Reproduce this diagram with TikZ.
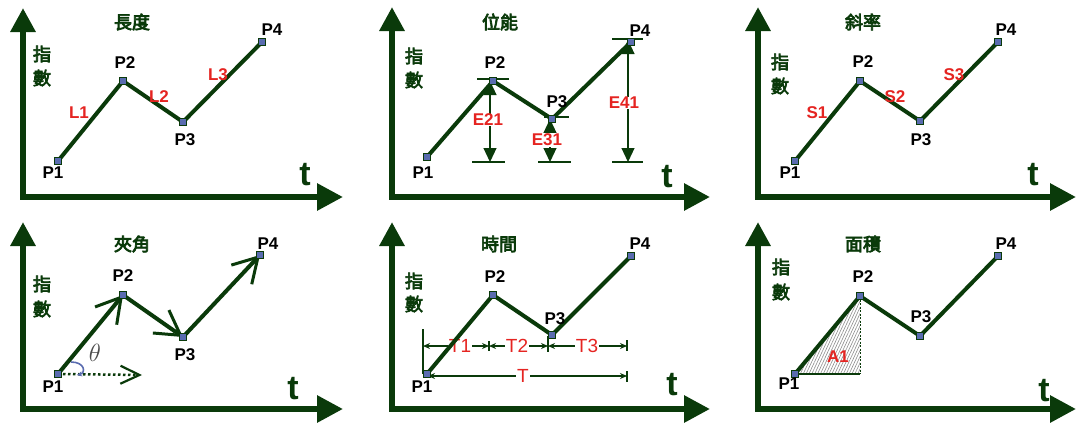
\documentclass[tikz,border=0pt]{standalone}
\usepackage{fontspec}
\setmainfont{Liberation Sans}
\newfontfamily\cjk{Noto Sans CJK TC}[FakeBold=4]
\usetikzlibrary{arrows.meta,patterns.meta}
\definecolor{dgreen}{HTML}{0A3A0A}
\definecolor{lred}{HTML}{E52421}
\definecolor{mblue}{HTML}{5A6CB0}
\tikzset{
 axisline/.style={line width=6pt, draw=dgreen, line join=miter,
   {Triangle[length=24pt,width=24pt]}-{Triangle[length=26pt,width=26pt]}},
 curve/.style={line width=4pt, draw=dgreen, line join=miter},
 ptmark/.style={rectangle, draw=dgreen, fill=mblue, line width=0.6pt, minimum size=6.5pt, inner sep=0pt},
 plab/.style={font=\fontsize{17}{17}\selectfont\bfseries, text=black, inner sep=0pt},
 redlab/.style={font=\fontsize{17}{17}\selectfont\bfseries, text=lred, inner sep=0.5pt},
 redthin/.style={font=\fontsize{19}{19}\selectfont, text=lred, fill=white, inner sep=0.8pt},
 ttl/.style={font=\cjk\fontsize{18}{18}\selectfont, text=dgreen, inner sep=0pt},
 tlab/.style={font=\fontsize{34}{34}\selectfont\bfseries, text=dgreen, inner sep=0pt},
 dimline/.style={line width=1.2pt, draw=dgreen},
 etip/.style={dimline, {Triangle[length=14pt,width=13pt]}-{Triangle[length=14pt,width=13pt]}},
 ttip/.style={dimline, {Stealth[length=7pt,width=6pt]}-{Stealth[length=7pt,width=6pt]}},
 vecarrow/.style={line width=4pt, draw=dgreen, -{Straight Barb[length=24pt,width=28pt,line width=3pt]}},
}
\newcommand\pnlaxes[5]{%
  \coordinate (#1t) at (#2,#3); \coordinate (#1o) at (#2,#4); \coordinate (#1r) at (#5,#4);
  \draw[axisline] (#1t) -- (#1o) -- (#1r);}
\begin{document}
\begin{tikzpicture}[x=1pt,y=-1pt]
\useasboundingbox[fill=white] (0,0) rectangle (1076,423);

% ================= Panel 1 =================
\pnlaxes{a}{23}{8}{197}{343}
\node[ttl] (aT) at (132,22) {長度};
\node[ttl] (aY1) at (42,54) {指};
\node[ttl] (aY2) at (42,78) {數};
\node[tlab] (at) at (305,175) {t};
\node[ptmark] (a1) at (58,161) {};
\node[ptmark] (a2) at (123,81) {};
\node[ptmark] (a3) at (183,122) {};
\node[ptmark] (a4) at (262,42) {};
\draw[curve] (a1.center) -- (a2.center) -- (a3.center) -- (a4.center);
\foreach \n in {1,2,3,4} \node[ptmark] at (a\n) {};
\node[plab] (a1l) at (53,173) {P1};
\node[plab] (a2l) at (125,63) {P2};
\node[plab] (a3l) at (185,140) {P3};
\node[plab] (a4l) at (272,30) {P4};
\node[redlab] (aL1) at (79,113) {L1};
\node[redlab] (aL2) at (159,97) {L2};
\node[redlab] (aL3) at (218,75) {L3};

% ================= Panel 2 =================
\pnlaxes{b}{392}{7}{197}{710}
\node[ttl] (bT) at (500,22) {位能};
\node[ttl] (bY1) at (414,56) {指};
\node[ttl] (bY2) at (414,80) {數};
\node[tlab] (bt) at (667,177) {t};
\coordinate (b2ta) at (477,79); \coordinate (b2tb) at (509,79);
\coordinate (b2ba) at (472,162); \coordinate (b2bb) at (505,162);
\coordinate (b3ta) at (544,117); \coordinate (b3tb) at (569,117);
\coordinate (b3ba) at (538,162); \coordinate (b3bb) at (571,162);
\coordinate (b4ta) at (612,39); \coordinate (b4tb) at (643,39);
\coordinate (b4ba) at (612,162); \coordinate (b4bb) at (643,162);
\foreach \k in {2,3,4} {\draw[dimline] (b\k ta) -- (b\k tb); \draw[dimline] (b\k ba) -- (b\k bb);}
\coordinate (b2u) at (490,81); \coordinate (b2d) at (490,162);
\coordinate (b3u) at (550,119); \coordinate (b3d) at (550,162);
\coordinate (b4u) at (628,40); \coordinate (b4d) at (628,162);
\draw[etip] (b2u) -- (b2d);
\draw[etip] (b3u) -- (b3d);
\draw[etip] (b4u) -- (b4d);
\node[redlab, fill=white] (bE21) at (488,120) {E21};
\node[redlab, fill=white] (bE31) at (547,140) {E31};
\node[redlab, fill=white] (bE41) at (624,103) {E41};
\node[ptmark] (b1) at (427,157) {};
\node[ptmark] (b2) at (493,81) {};
\node[ptmark] (b3) at (552,119) {};
\node[ptmark] (b4) at (631,42) {};
\draw[curve] (b1.center) -- (b2.center) -- (b3.center) -- (b4.center);
\foreach \n in {1,2,3,4} \node[ptmark] at (b\n) {};
\node[plab] (b1l) at (423,173) {P1};
\node[plab] (b2l) at (495,63) {P2};
\node[plab] (b3l) at (557,102) {P3};
\node[plab] (b4l) at (640,31) {P4};

% ================= Panel 3 =================
\pnlaxes{c}{758}{7}{197}{1076}
\node[ttl] (cT) at (863,22) {斜率};
\node[ttl] (cY1) at (780,62) {指};
\node[ttl] (cY2) at (780,86) {數};
\node[tlab] (ct) at (1033,175) {t};
\node[ptmark] (c1) at (795,161) {};
\node[ptmark] (c2) at (860,81) {};
\node[ptmark] (c3) at (920,121) {};
\node[ptmark] (c4) at (998,42) {};
\draw[curve] (c1.center) -- (c2.center) -- (c3.center) -- (c4.center);
\foreach \n in {1,2,3,4} \node[ptmark] at (c\n) {};
\node[plab] (c1l) at (790,173) {P1};
\node[plab] (c2l) at (863,62) {P2};
\node[plab] (c3l) at (921,140) {P3};
\node[plab] (c4l) at (1006,30) {P4};
\node[redlab] (cS1) at (817,113) {S1};
\node[redlab] (cS2) at (895,97) {S2};
\node[redlab] (cS3) at (954,75) {S3};

% ================= Panel 4 =================
\pnlaxes{d}{23}{222}{409}{343}
\node[ttl] (dT) at (132,244) {夾角};
\node[ttl] (dY1) at (42,284) {指};
\node[ttl] (dY2) at (42,309) {數};
\node[tlab] (dt) at (293,389) {t};
\node[ptmark] (d1) at (58,374) {};
\node[ptmark] (d2) at (123,295) {};
\node[ptmark] (d3) at (183,337) {};
\node[ptmark] (d4) at (260,255) {};
\coordinate (dh) at (142,375);
\draw[line width=2.5pt, dgreen, dash pattern=on 2.5pt off 2.5pt,
  -{Straight Barb[length=19pt,width=18pt,line width=2.2pt]}] (d1.center) -- (dh);
\draw[vecarrow] (d1.center) -- (d2.center);
\draw[vecarrow] (d2.center) -- (d3.center);
\draw[vecarrow] (d3.center) -- (d4.center);
\foreach \n in {1,2,3,4} \node[ptmark] at (d\n) {};
\coordinate (dca) at (71,362); \coordinate (dcb) at (77,375);
\draw[mblue, line width=1.6pt, -{Stealth[length=5pt,width=5pt]}]
  (dca) .. controls (85,362) and (86,373) .. (dcb);
\node[text=black!70, inner sep=0pt, font=\fontsize{28}{28}\selectfont] (dth) at (95,353) {$\theta$};
\node[plab] (d1l) at (53,387) {P1};
\node[plab] (d2l) at (123,276) {P2};
\node[plab] (d3l) at (185,355) {P3};
\node[plab] (d4l) at (268,244) {P4};

% ================= Panel 5 =================
\pnlaxes{e}{392}{222}{409}{710}
\node[ttl] (eT) at (499,244) {時間};
\node[ttl] (eY1) at (414,281) {指};
\node[ttl] (eY2) at (414,304) {數};
\node[tlab] (et) at (672,385) {t};
\coordinate (ev0a) at (423,329); \coordinate (ev0b) at (423,374);
\coordinate (ev1a) at (489,341); \coordinate (ev1b) at (489,351);
\coordinate (ev2a) at (548,336); \coordinate (ev2b) at (548,352);
\coordinate (ev3a) at (627,340); \coordinate (ev3b) at (627,351);
\coordinate (ev4a) at (627,371); \coordinate (ev4b) at (627,382);
\foreach \k in {0,1,2,3,4} \draw[dimline] (ev\k a) -- (ev\k b);
\coordinate (er0) at (423,346); \coordinate (er1) at (489,346);
\coordinate (er2) at (548,346); \coordinate (er3) at (627,346);
\coordinate (es0) at (428,376); \coordinate (es1) at (627,376);
\draw[ttip] (er0) -- (er1);
\draw[ttip] (er1) -- (er2);
\draw[ttip] (er2) -- (er3);
\draw[ttip] (es0) -- (es1);
\node[redthin] (eT1) at (460,346) {T1};
\node[redthin] (eT2) at (517,346) {T2};
\node[redthin] (eT3) at (587,346) {T3};
\node[redthin] (eTT) at (523,376) {T};
\node[ptmark] (e1) at (427,374) {};
\node[ptmark] (e2) at (493,295) {};
\node[ptmark] (e3) at (552,335) {};
\node[ptmark] (e4) at (631,256) {};
\draw[curve] (e1.center) -- (e2.center) -- (e3.center) -- (e4.center);
\foreach \n in {1,2,3,4} \node[ptmark] at (e\n) {};
\node[plab] (e1l) at (422,387) {P1};
\node[plab] (e2l) at (495,277) {P2};
\node[plab] (e3l) at (555,319) {P3};
\node[plab] (e4l) at (640,244) {P4};

% ================= Panel 6 =================
\pnlaxes{f}{758}{222}{409}{1076}
\node[ttl] (fT) at (863,244) {面積};
\node[ttl] (fY1) at (781,267) {指};
\node[ttl] (fY2) at (781,292) {數};
\node[tlab] (ft) at (1044,391) {t};
\node[ptmark] (f1) at (795,374) {};
\node[ptmark] (f2) at (860,296) {};
\node[ptmark] (f3) at (920,336) {};
\node[ptmark] (f4) at (998,256) {};
\coordinate (fb) at (860,374);
\fill[pattern={Lines[angle=65,distance=2.6pt,line width=0.6pt]}, pattern color=black!45]
  (f1.center) -- (f2.center) -- (fb) -- cycle;
\draw[dgreen, line width=1pt, dash pattern=on 2pt off 1.5pt] (f2.center) -- (fb);
\draw[dgreen, line width=1.2pt] (f1.center) -- (fb);
\node[redlab] (fA1) at (838,357) {A1};
\draw[curve] (f1.center) -- (f2.center) -- (f3.center) -- (f4.center);
\foreach \n in {1,2,3,4} \node[ptmark] at (f\n) {};
\node[plab] (f1l) at (789,384) {P1};
\node[plab] (f2l) at (863,277) {P2};
\node[plab] (f3l) at (921,317) {P3};
\node[plab] (f4l) at (1006,244) {P4};
\end{tikzpicture}
\end{document}
